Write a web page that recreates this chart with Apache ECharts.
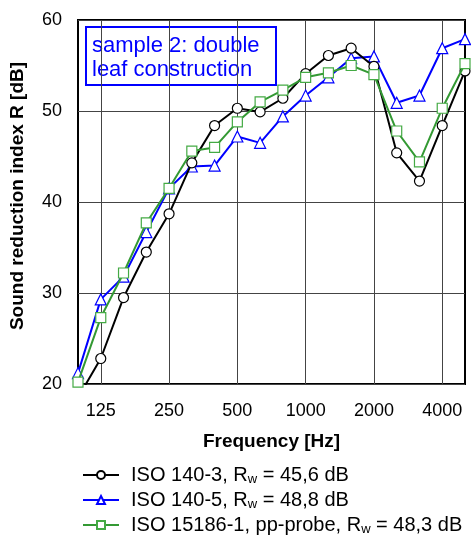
<!DOCTYPE html>
<html>
<head>
<meta charset="utf-8">
<script src="https://cdn.jsdelivr.net/npm/echarts@6/dist/echarts.min.js"></script>
<style>html,body{margin:0;padding:0;background:#fff}#c{width:471px;height:539px}</style>
</head>
<body>
<div id="c"></div>
<script>
const bands = ['100','125','160','200','250','315','400','500','630','800','1000','1250','1600','2000','2500','3150','4000','5000'];
const tickLabels = ['125','250','500','1000','2000','4000'];
const iso1403 = [18.5,22.8,29.5,34.5,38.7,44.3,48.4,50.3,49.9,51.4,54.1,56.1,56.9,54.9,45.4,42.3,48.4,54.4];
const iso1405 = [21.2,29.3,31.8,36.7,41.5,43.9,44.0,47.2,46.5,49.4,51.7,53.7,55.8,56.0,50.9,51.7,56.9,57.9];
const iso15186 = [20.2,27.3,32.2,37.7,41.5,45.6,46.0,48.8,51.0,52.3,53.7,54.2,55.0,54.0,47.8,44.4,50.3,55.2];
const yMin = 20, yMax = 60, yStep = 10;

const F = 'Liberation Sans, Arial, sans-serif';
const chart = echarts.init(document.getElementById('c'));
const isTick = (i, v) => tickLabels.indexOf(String(v)) >= 0;
const rich = {
  g: {width: 7},
  a: {fontFamily: F, fontSize: 20, color: '#000', lineHeight: 22},
  s: {fontFamily: F, fontSize: 13, color: '#000', verticalAlign: 'bottom', lineHeight: 13, padding: [8, 0, 0, 0]}
};
const names = ['ISO 140-3', 'ISO 140-5', 'ISO 15186-1'];
const legendText = {
  'ISO 140-3': '{g|}{a|ISO 140-3, R}{s|w}{a| = 45,6 dB}',
  'ISO 140-5': '{g|}{a|ISO 140-5, R}{s|w}{a| = 48,8 dB}',
  'ISO 15186-1': '{g|}{a|ISO 15186-1, pp-probe, R}{s|w}{a| = 48,3 dB}'
};
chart.setOption({
  animation: false,
  backgroundColor: '#fff',
  graphic: [{
    type: 'group', left: 85, top: 26, z: 100,
    children: [
      {type: 'rect', shape: {x: 0, y: 0, width: 190, height: 58}, style: {fill: '#fff', stroke: '#0000ff', lineWidth: 2}},
      {type: 'text', x: 6, y: 7, style: {text: 'sample 2: double\nleaf construction', font: '22px Liberation Sans, Arial, sans-serif', fill: '#0000ff', lineHeight: 24}}
    ]
  }],
  grid: {left: 78, right: 6, top: 20, bottom: 155, show: true, borderColor: '#000', borderWidth: 2, backgroundColor: 'transparent'},
  legend: {
    orient: 'vertical', left: 77, top: 460, height: 200, itemGap: 4, itemWidth: 36, itemHeight: 10,
    data: names,
    formatter: n => legendText[n],
    textStyle: {rich: rich, fontFamily: F, fontSize: 20}
  },
  xAxis: {
    type: 'category', data: bands, boundaryGap: false,
    name: 'Frequency [Hz]', nameLocation: 'middle', nameGap: 48,
    nameTextStyle: {fontFamily: F, fontSize: 19, fontWeight: 'bold', color: '#000'},
    axisLine: {show: false}, axisTick: {show: false},
    axisLabel: {interval: isTick, fontFamily: F, fontSize: 18, color: '#000', margin: 18},
    splitLine: {show: true, interval: isTick, lineStyle: {color: '#444', width: 1}}
  },
  yAxis: {
    type: 'value', min: yMin, max: yMax, interval: yStep,
    name: 'Sound reduction index R [dB]', nameLocation: 'middle', nameGap: 51, nameRotate: 90,
    nameTextStyle: {fontFamily: F, fontSize: 19, fontWeight: 'bold', color: '#000', padding: [0, 0, 0, 12]},
    axisLine: {show: false}, axisTick: {show: false},
    axisLabel: {fontFamily: F, fontSize: 18, color: '#000', margin: 16},
    splitLine: {show: true, lineStyle: {color: '#444', width: 1}}
  },
  series: [
    {name: names[0], type: 'line', data: iso1403, clip: true, symbol: 'circle', symbolSize: 10,
     lineStyle: {color: '#000', width: 2}, itemStyle: {color: '#fff', borderColor: '#000', borderWidth: 1.2}, z: 3},
    {name: names[1], type: 'line', data: iso1405, clip: true, symbol: 'triangle', symbolSize: 11,
     lineStyle: {color: '#0000ff', width: 2}, itemStyle: {color: '#fff', borderColor: '#0000ff', borderWidth: 1.2}, z: 2},
    {name: names[2], type: 'line', data: iso15186, clip: true, symbol: 'rect', symbolSize: 10,
     lineStyle: {color: '#339933', width: 2}, itemStyle: {color: '#fff', borderColor: '#44aa44', borderWidth: 1.2}, z: 4}
  ]
});
</script>
</body>
</html>
